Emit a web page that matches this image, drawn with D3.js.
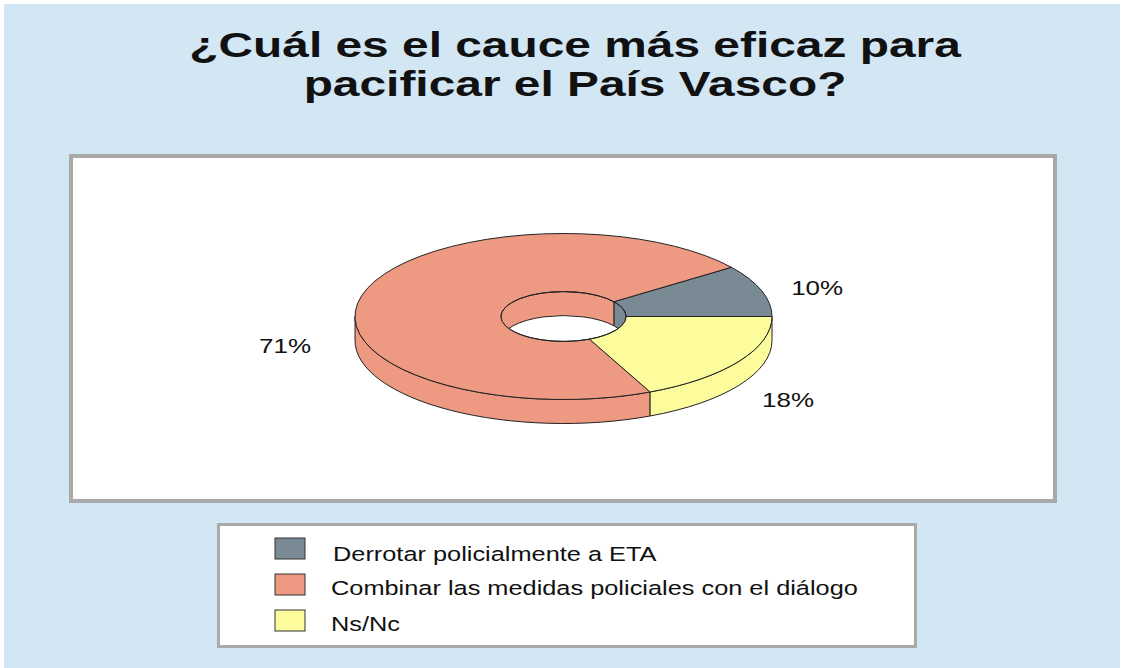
<!DOCTYPE html>
<html>
<head>
<meta charset="utf-8">
<script src="https://cdn.jsdelivr.net/npm/d3@7"></script>
<style>
  body { margin: 0; background: #fff; }
  text { font-family: "Liberation Sans", Arial, sans-serif; fill: #111; }
</style>
</head>
<body>
<svg id="chart" width="1122" height="668"></svg>
<script>
// data
const titleLines = ["¿Cuál es el cauce más eficaz para", "pacificar el País Vasco?"];
const categories = [
    "Derrotar policialmente a ETA",
    "Combinar las medidas policiales con el diálogo",
    "Ns/Nc"
];
const values = [10, 71, 18];
const sliceColors = ["#7a8a94", "#ee9a83", "#fcfc9c"];

const svg = d3.select("#chart");
const sx = 1.3; // the original picture is stretched sideways

// background + frames
svg.append("rect").attr("x", 4).attr("y", 4).attr("width", 1116).attr("height", 664)
    .attr("fill", "#d2e6f4");
svg.append("rect").attr("x", 71).attr("y", 156).attr("width", 984).attr("height", 345)
    .attr("fill", "#fff").attr("stroke", "#a9a9a9").attr("stroke-width", 4);
svg.append("rect").attr("x", 218.5).attr("y", 524.5).attr("width", 697).attr("height", 122)
    .attr("fill", "#fff").attr("stroke", "#a9a9a9").attr("stroke-width", 3);

// title
svg.append("g").selectAll("text")
    .data(titleLines)
    .enter().append("text")
    .attr("transform", (d, i) => `translate(575,${57 + i * 39}) scale(1.33,1)`)
    .attr("text-anchor", "middle")
    .style("font-size", "36px")
    .style("font-weight", "bold")
    .text(d => d);

// 3D donut geometry
const cx = 563.5, cy = 316.5, rx = 208.5, ry = 83, depth = 24, inner = 0.3;
const irx = rx * inner, iry = ry * inner;
const pt = (a, r1, r2, dy) => [cx + r1 * Math.sin(a), cy - r2 * Math.cos(a) + (dy || 0)];

const pieData = values.map((v, i) => ({ v: v, idx: i }));
const arcs = d3.pie()
    .value(d => d.v)
    .sort((a, b) => b.idx - a.idx)   // Ns/Nc first, clockwise from 3 o'clock
    .startAngle(Math.PI / 2)
    .endAngle(Math.PI / 2 + 2 * Math.PI)(pieData);

function wall(a0, a1, r1, r2) {
    const p0 = pt(a0, r1, r2), p1 = pt(a1, r1, r2);
    const q1 = pt(a1, r1, r2, depth), q0 = pt(a0, r1, r2, depth);
    const large = (a1 - a0) > Math.PI ? 1 : 0;
    return `M${p0}A${r1},${r2} 0 ${large} 1 ${p1}L${q1}A${r1},${r2} 0 ${large} 0 ${q0}Z`;
}

const pie = svg.append("g");

// outer side walls, front half
arcs.forEach((d, i) => {
    const a0 = Math.max(d.startAngle, Math.PI / 2), a1 = Math.min(d.endAngle, 3 * Math.PI / 2);
    if (a1 <= a0) return;
    pie.append("path").attr("d", wall(a0, a1, rx, ry))
        .attr("fill", sliceColors[i]).attr("stroke", "#222").attr("stroke-width", 1);
});

// top faces
const arcGen = d3.arc().innerRadius(rx * inner).outerRadius(rx);
pie.append("g")
    .attr("transform", `translate(${cx},${cy}) scale(1,${ry / rx})`)
    .selectAll("path")
    .data(arcs)
    .enter().append("path")
    .attr("d", arcGen)
    .attr("fill", (d, i) => sliceColors[i])
    .attr("stroke", "#222")
    .attr("stroke-width", 1)
    .attr("vector-effect", "non-scaling-stroke");

// inner wall, back half, seen through the hole
svg.append("clipPath").attr("id", "hole")
    .append("ellipse").attr("cx", cx).attr("cy", cy).attr("rx", irx).attr("ry", iry);
const innerG = pie.append("g").attr("clip-path", "url(#hole)");
arcs.forEach((d, i) => {
    const a0 = Math.max(d.startAngle, 3 * Math.PI / 2), a1 = Math.min(d.endAngle, 5 * Math.PI / 2);
    if (a1 <= a0) return;
    innerG.append("path").attr("d", wall(a0, a1, irx, iry))
        .attr("fill", sliceColors[i]).attr("stroke", "#222").attr("stroke-width", 1);
});
pie.append("ellipse").attr("cx", cx).attr("cy", cy).attr("rx", irx).attr("ry", iry)
    .attr("fill", "none").attr("stroke", "#222").attr("stroke-width", 1);

// percentage labels
const labelNudge = [[0, 0], [-20, 50], [0, 0]];
arcs.forEach((d, i) => {
    const mid = (d.startAngle + d.endAngle) / 2;
    const p = pt(mid, 267, 132, 12.5);
    svg.append("text")
        .attr("transform", `translate(${p[0] + labelNudge[i][0]},${p[1] + labelNudge[i][1]}) scale(${sx},1)`)
        .attr("text-anchor", "middle")
        .attr("dy", "0.35em")
        .style("font-size", "20px")
        .text(values[i] + "%");
});

// legend
const legend = svg.append("g").selectAll("g")
    .data(categories)
    .enter().append("g")
    .attr("transform", (d, i) => `translate(275,${538 + i * 36})`);
legend.append("rect")
    .attr("width", 30).attr("height", 21)
    .attr("fill", (d, i) => sliceColors[i])
    .attr("stroke", "#333").attr("stroke-width", 1);
legend.append("text")
    .attr("transform", (d, i) => `translate(${i === 0 ? 58 : 56},${i === 0 ? 23 : 21}) scale(${sx},1)`)
    .style("font-size", "19.5px")
    .text(d => d);
</script>
</body>
</html>
